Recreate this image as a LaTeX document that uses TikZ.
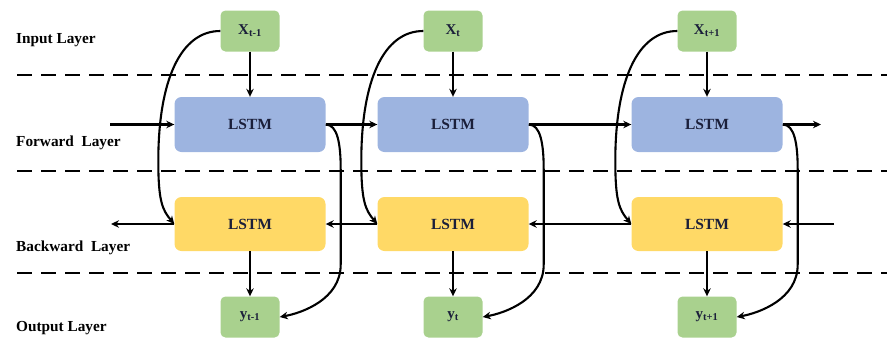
\documentclass[tikz,border=0pt]{standalone}
\usepackage{fontspec}
\setmainfont{Liberation Serif}
\usetikzlibrary{arrows.meta}
\definecolor{gbox}{HTML}{A9D18E}
\definecolor{bbox}{HTML}{9DB4E0}
\definecolor{ybox}{HTML}{FFD966}
\definecolor{navy}{HTML}{1B1F3A}
\begin{document}
\begin{tikzpicture}[x=1pt,y=-1pt,
  iobox/.style={fill=gbox, rounded corners=5pt, minimum width=59pt, minimum height=41pt, inner sep=0pt, font=\bfseries\fontsize{15}{17}\selectfont, text=navy},
  fwbox/.style={fill=bbox, rounded corners=7pt, minimum width=151pt, minimum height=55pt, inner sep=0pt, font=\bfseries\fontsize{15.5}{17}\selectfont, text=navy},
  bwbox/.style={fill=ybox, rounded corners=7pt, minimum width=151pt, minimum height=54pt, inner sep=0pt, font=\bfseries\fontsize{15.5}{17}\selectfont, text=navy},
  lbl/.style={anchor=west, inner sep=0pt, font=\bfseries\fontsize{15.3}{17}\selectfont},
  arr/.style={line width=2.1pt, -{Stealth[length=8pt,width=7.5pt]}},
  sep/.style={line width=2.4pt, dash pattern=on 15pt off 9pt}
]
\useasboundingbox (0,0) rectangle (887,338);
% separators
\draw[sep] (17,75) -- (887,75);
\draw[sep] (17,171) -- (887,171);
\draw[sep] (17,273) -- (887,273);
% labels
\node[lbl] (l1) at (16,40) {Input Layer};
\node[lbl] (l2) at (16,143) {Forward\ \ Layer};
\node[lbl] (l3) at (16,248) {Backward\ \ Layer};
\node[lbl] (l4) at (16,328) {Output Layer};
% boxes
\node[iobox] (xa) at (250,31) {X\textsubscript{t-1}};
\node[iobox] (xb) at (453,31) {X\textsubscript{t}};
\node[iobox] (xc) at (707,31) {X\textsubscript{t+1}};
\node[fwbox] (fa) at (250,124.5) {LSTM};
\node[fwbox] (fb) at (453,124.5) {LSTM};
\node[fwbox] (fc) at (707,124.5) {LSTM};
\node[bwbox] (ba) at (250,224) {LSTM};
\node[bwbox] (bb) at (453,224) {LSTM};
\node[bwbox] (bc) at (707,224) {LSTM};
\node[iobox] (ya) at (250,317) {y\textsubscript{t-1}};
\node[iobox] (yb) at (453,317) {y\textsubscript{t}};
\node[iobox] (yc) at (707,317) {y\textsubscript{t+1}};
\coordinate (inF) at (110,124.5);
\coordinate (outF) at (821,124.5);
\coordinate (inB) at (834,224);
\coordinate (outB) at (111,224);
% vertical
\foreach \n in {a,b,c}{
  \draw[arr] (x\n.south) -- (f\n.north);
  \draw[arr] (b\n.south) -- (y\n.north);
  % input to backward
  \draw[arr] (x\n.west) .. controls +(-40,0) and +(0,-80) .. ++(-62,130)
     .. controls +(0,40) and +(-12,-14) .. (b\n.west);
  % forward to output
  \draw[arr] (f\n.east) .. controls +(12,0) and +(0,-25) .. ++(15,45)
     -- ++(0,95) .. controls +(0,35) and +(22,-4) .. (y\n.east);
}
% horizontal
\draw[arr] (inF) -- (fa.west);
\draw[arr] (fa.east) -- (fb.west);
\draw[arr] (fb.east) -- (fc.west);
\draw[arr] (fc.east) -- (outF);
\draw[arr] (inB) -- (bc.east);
\draw[arr] (bc.west) -- (bb.east);
\draw[arr] (bb.west) -- (ba.east);
\draw[arr] (ba.west) -- (outB);
\end{tikzpicture}
\end{document}
